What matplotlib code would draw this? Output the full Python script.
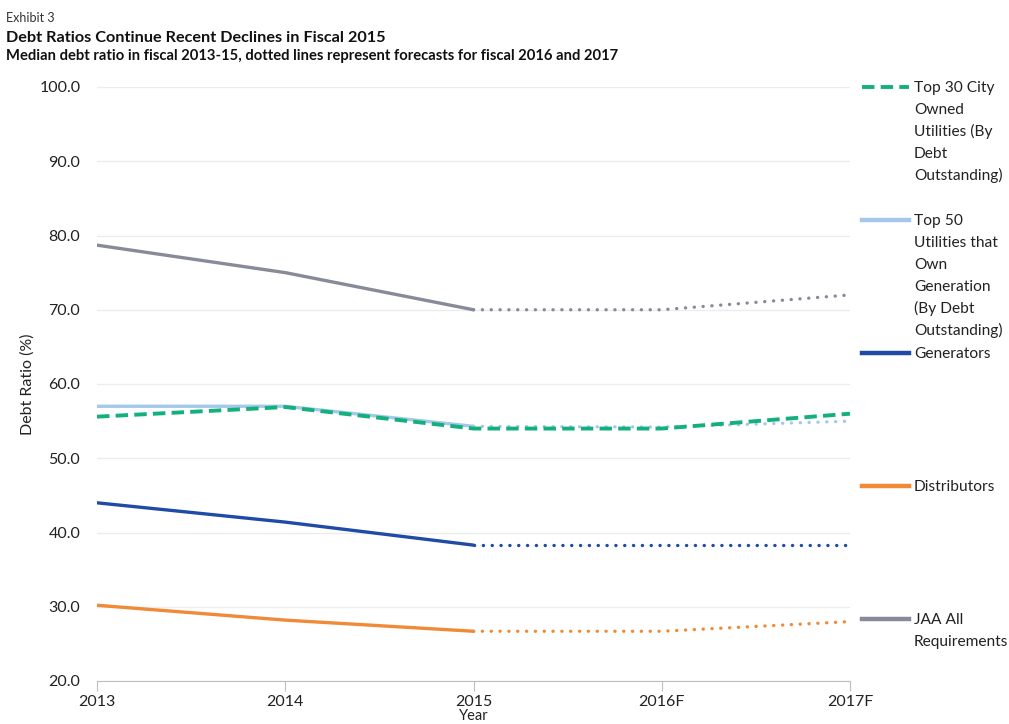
import numpy as np
import matplotlib.pyplot as plt
from matplotlib import transforms

plt.rcParams['font.family'] = ['Lato', 'DejaVu Sans']

# Median debt ratios, fiscal 2013-15 actual, 2016-17 forecast
years = ["2013", "2014", "2015", "2016F", "2017F"]
top30_city = [55.6, 56.9, 54.0, 54.0, 56.0]
top50_gen = [57.0, 57.0, 54.3, 54.2, 55.0]
generators = [44.0, 41.4, 38.3, 38.3, 38.3]
distributors = [30.2, 28.2, 26.7, 26.7, 28.0]
jaa_all_req = [78.7, 75.0, 70.0, 70.0, 72.0]

labels = [
    "Top 30 City\nOwned\nUtilities (By\nDebt\nOutstanding)",
    "Top 50\nUtilities that\nOwn\nGeneration\n(By Debt\nOutstanding)",
    "Generators",
    "Distributors",
    "JAA All\nRequirements",
]
colors = ["#13b07e", "#a3c8ea", "#1f4aa6", "#f08a36", "#878b99"]

x = np.arange(len(years))
n_act = 3  # 2013-2015 actual

fig = plt.figure(figsize=(10.09, 7.24), dpi=100)
ax = fig.add_axes([97 / 1009, 1 - 681 / 724, 753 / 1009, 594 / 724])

dot = (0, (0.05, 2.6))
dash = (0, (3.2, 1.6))
lw = 2.4

# actual (solid) and forecast (dotted) segments
series = [top50_gen, generators, distributors, jaa_all_req]
cols = colors[1:]
for vals, c in zip(series, cols):
    ax.plot(x[:n_act], vals[:n_act], color=c, lw=lw, solid_capstyle='round', zorder=3)
    ax.plot(x[n_act - 1:], vals[n_act - 1:], color=c, lw=lw, linestyle=dot,
            dash_capstyle='round', zorder=3)
ax.plot(x, top30_city, color=colors[0], lw=2.8, linestyle=dash, zorder=4)

ax.set_xlim(0, 4)
ax.set_ylim(20, 100)
ax.set_yticks(np.arange(20, 101, 10))
ax.set_yticklabels([f"{v:.1f}" for v in np.arange(20, 101, 10)])
ax.set_xticks(x)
ax.set_xticklabels(years)
ax.grid(axis='y', color='#ececec', lw=1)
ax.set_axisbelow(True)
for s in ['top', 'right', 'left']:
    ax.spines[s].set_visible(False)
ax.spines['bottom'].set_color('#bdbdbd')
ax.tick_params(axis='y', length=0, pad=12, labelsize=11.5, labelcolor='#222222')
ax.tick_params(axis='x', length=7, color='#bdbdbd', pad=3, labelsize=11.5,
               labelcolor='#222222')
ax.set_xlabel("Year", fontsize=10.5, color='#222222', va='center')
ax.xaxis.set_label_coords(0.5, -0.059)
ax.set_ylabel("Debt Ratio (%)", fontsize=11.5, color='#222222', labelpad=3)

# legend along the right side, one text line at a time for even spacing
leg_y = [100.0, 82.1, 64.2, 46.3, 28.4]
styles = [dash, '-', '-', '-', '-']
ytrans = ax.get_yaxis_transform()
for lab, c, yv, ls in zip(labels, colors, leg_y, styles):
    ax.plot([1.016, 1.078], [yv, yv], transform=ytrans,
            color=c, lw=2.8 if ls == dash else lw + 0.8, linestyle=ls,
            clip_on=False)
    for i, line in enumerate(lab.split("\n")):
        tr = transforms.offset_copy(ytrans, fig=fig, x=0, y=-5 - 22 * i, units='dots')
        ax.text(1.085, yv, line, transform=tr, fontsize=11.2,
                va='baseline', ha='left', color='#222222', clip_on=False)

# headings
fig.text(0.006, 0.975, "Exhibit 3", fontsize=9, color='#333333', va='center')
fig.text(0.006, 0.948, "Debt Ratios Continue Recent Declines in Fiscal 2015",
         fontsize=11.7, fontweight='bold', color='#111111', va='center')
fig.text(0.006, 0.922,
         "Median debt ratio in fiscal 2013-15, dotted lines represent forecasts for fiscal 2016 and 2017",
         fontsize=10.6, fontweight='bold', color='#111111', va='center')

fig.savefig("out.png", dpi=100)
